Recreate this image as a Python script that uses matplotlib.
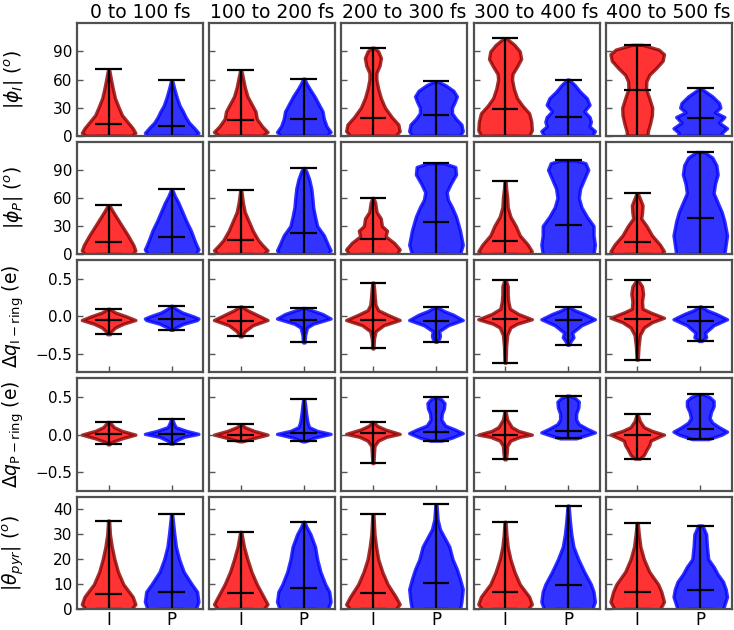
import numpy as np
import matplotlib
matplotlib.use("Agg")
import matplotlib.pyplot as plt

# time windows (columns) and species (x ticks)
windows = ["0 to 100 fs", "100 to 200 fs", "200 to 300 fs", "300 to 400 fs", "400 to 500 fs"]
species = ["I", "P"]

# violin outlines: (value, relative half width), first/last = min/max
# row 1: |phi_I|
phiI_I = [
    [(0, .85), (3, 1), (8, .9), (15, .7), (22, .5), (30, .38), (40, .24), (50, .16), (60, .09), (71, .02)],
    [(0, .8), (4, 1), (10, .8), (18, .6), (26, .55), (34, .4), (42, .25), (52, .15), (62, .08), (70, .02)],
    [(0, .85), (5, 1), (12, .95), (20, .7), (30, .45), (40, .3), (50, .2), (60, .13), (67, .13), (75, .25), (83, .3), (90, .2), (94, .05)],
    [(0, .9), (6, 1), (15, .98), (24, .9), (32, .65), (40, .45), (50, .33), (60, .26), (66, .28), (74, .45), (82, .6), (90, .55), (97, .35), (104, .05)],
    [(0, .38), (5, .4), (13, .48), (22, .55), (30, .56), (40, .45), (50, .33), (58, .34), (65, .45), (72, .7), (80, .95), (87, 1), (92, .8), (97, .2)],
]
phiI_P = [
    [(0, .9), (3, 1), (8, .85), (14, .65), (20, .52), (26, .42), (32, .3), (40, .2), (50, .1), (59, .02)],
    [(0, .85), (4, 1), (10, .85), (18, .75), (26, .7), (34, .55), (42, .4), (50, .22), (56, .1), (61, .02)],
    [(0, .9), (5, 1), (12, .95), (18, .75), (24, .6), (30, .6), (36, .7), (42, .78), (48, .65), (54, .35), (58, .05)],
    [(0, .9), (5, 1), (10, .8), (15, .85), (20, .8), (26, .6), (33, .8), (40, .7), (47, .45), (54, .25), (60, .03)],
    [(0, .85), (3, .8), (8, 1), (14, .7), (20, .9), (25, .55), (30, .75), (35, .7), (42, .45), (47, .2), (50.5, .03)],
]
phiI_med_I = [13, 17, 19, 29, 49]
phiI_med_P = [10, 18, 22, 20, 19]

# row 2: |phi_P|
phiP_I = [
    [(0, .9), (4, 1), (10, .92), (20, .72), (30, .5), (40, .28), (46, .15), (52, .03)],
    [(0, .85), (4, 1), (10, .8), (15, .65), (25, .45), (35, .3), (45, .15), (55, .08), (68, .02)],
    [(0, .85), (5, .95), (12, .75), (19, .45), (25, .5), (30, .32), (38, .28), (45, .13), (55, .08), (60, .02)],
    [(0, .9), (3, 1), (10, .85), (20, .55), (30, .4), (40, .2), (50, .1), (60, .08), (70, .04), (78, .02)],
    [(0, .9), (3, 1), (10, .85), (20, .55), (30, .35), (38, .15), (44, .18), (52, .2), (58, .12), (65, .02)],
]
phiP_P = [
    [(0, .9), (5, 1), (10, .92), (15, .85), (25, .72), (35, .55), (45, .4), (55, .25), (62, .12), (69, .02)],
    [(0, .9), (4, 1), (10, .9), (20, .75), (30, .5), (40, .42), (50, .35), (60, .32), (70, .28), (80, .2), (88, .1), (92, .02)],
    [(0, .9), (10, 1), (25, .9), (40, .75), (50, .6), (58, .45), (66, .4), (75, .55), (85, .75), (93, .72), (97, .3)],
    [(0, .95), (10, 1), (20, .95), (30, .95), (40, .7), (50, .5), (60, .4), (70, .45), (80, .6), (90, .75), (97, .65), (100, .3)],
    [(0, .9), (10, .95), (20, 1), (35, .9), (45, .8), (55, .65), (65, .5), (75, .55), (85, .65), (95, .6), (103, .45), (109, .15)],
]
phiP_med_I = [13, 15, 16, 14, 13]
phiP_med_P = [18, 23, 34, 31, 38]

# row 3: dq I-ring
dqI_I = [
    [(-.24, .05), (-.2, .1), (-.15, .25), (-.1, .55), (-.05, 1), (0, .65), (.05, .25), (.1, .03)],
    [(-.27, .03), (-.2, .15), (-.12, .45), (-.05, 1), (.02, .6), (.08, .25), (.13, .03)],
    [(-.43, .02), (-.3, .04), (-.2, .1), (-.12, .4), (-.05, 1), (.02, .55), (.08, .2), (.15, .1), (.25, .07), (.35, .05), (.45, .02)],
    [(-.62, .02), (-.4, .04), (-.25, .08), (-.15, .2), (-.1, .45), (-.04, 1), (.03, .5), (.1, .18), (.2, .12), (.3, .1), (.4, .1), (.48, .03)],
    [(-.58, .02), (-.4, .05), (-.25, .1), (-.15, .25), (-.08, .55), (-.02, 1), (.05, .5), (.1, .2), (.2, .18), (.3, .22), (.4, .18), (.48, .03)],
]
dqI_P = [
    [(-.18, .05), (-.15, .15), (-.1, .45), (-.05, .95), (-.03, 1), (0, .8), (.05, .4), (.1, .15), (.14, .03)],
    [(-.35, .03), (-.25, .05), (-.15, .12), (-.1, .35), (-.03, 1), (.03, .7), (.08, .3), (.11, .05)],
    [(-.34, .03), (-.3, .12), (-.26, .15), (-.2, .12), (-.12, .45), (-.05, 1), (.02, .65), (.07, .3), (.12, .05)],
    [(-.38, .03), (-.33, .1), (-.28, .2), (-.22, .15), (-.12, .5), (-.04, 1), (.03, .6), (.08, .25), (.12, .05)],
    [(-.33, .05), (-.28, .22), (-.22, .18), (-.12, .5), (-.04, 1), (.03, .6), (.08, .25), (.13, .03)],
]
dqI_med_I = [-0.05, -0.06, -0.05, -0.04, -0.03]
dqI_med_P = [-0.04, -0.05, -0.06, -0.05, -0.06]

# row 4: dq P-ring
dqP_I = [
    [(-.13, .03), (-.1, .1), (-.05, .5), (0, 1), (.05, .5), (.1, .2), (.17, .03)],
    [(-.09, .05), (-.05, .45), (0, 1), (.05, .5), (.1, .15), (.14, .03)],
    [(-.38, .02), (-.25, .04), (-.15, .06), (-.08, .2), (-.03, .5), (.01, 1), (.07, .45), (.12, .15), (.17, .03)],
    [(-.33, .03), (-.25, .06), (-.15, .08), (-.08, .2), (-.03, .55), (0, 1), (.05, .5), (.1, .25), (.2, .08), (.31, .02)],
    [(-.32, .1), (-.27, .25), (-.2, .35), (-.14, .45), (-.08, .5), (-.03, .8), (0, 1), (.05, .55), (.1, .25), (.18, .1), (.27, .02)],
]
dqP_P = [
    [(-.12, .05), (-.08, .15), (-.03, .45), (.01, 1), (.05, .55), (.1, .15), (.15, .08), (.21, .02)],
    [(-.09, .05), (-.04, .4), (.01, 1), (.05, .5), (.1, .2), (.15, .15), (.2, .12), (.3, .08), (.4, .05), (.47, .02)],
    [(-.08, .2), (-.04, .6), (.02, 1), (.07, .7), (.12, .35), (.2, .2), (.28, .22), (.35, .3), (.42, .32), (.47, .2), (.5, .05)],
    [(-.05, .3), (0, .75), (.03, 1), (.08, .7), (.14, .4), (.2, .3), (.28, .3), (.36, .38), (.44, .4), (.49, .25), (.52, .05)],
    [(-.06, .3), (0, .8), (.04, 1), (.1, .7), (.16, .45), (.22, .35), (.3, .4), (.38, .5), (.45, .5), (.5, .35), (.54, .1)],
]
dqP_med_I = [0.01, 0.0, 0.02, 0.0, -0.01]
dqP_med_P = [0.01, 0.02, 0.04, 0.05, 0.07]

# row 5: |theta_pyr|
pyr_I = [
    [(0, .85), (2, 1), (5, .9), (10, .55), (15, .35), (20, .22), (25, .12), (30, .05), (35.5, .02)],
    [(0, .85), (2, 1), (5, .85), (10, .6), (15, .4), (20, .25), (25, .12), (31, .02)],
    [(0, .85), (2, 1), (5, .85), (10, .55), (15, .35), (20, .2), (25, .12), (30, .06), (38, .02)],
    [(0, .85), (2, 1), (5, .9), (10, .55), (15, .35), (20, .2), (25, .1), (30, .05), (35, .02)],
    [(0, .85), (3, 1), (7, .9), (10, .78), (15, .45), (20, .25), (25, .12), (30, .06), (34.5, .02)],
]
pyr_P = [
    [(0, .9), (3, 1), (7, .95), (10, .75), (15, .45), (20, .28), (25, .16), (30, .1), (35, .05), (38, .02)],
    [(0, .9), (3, 1), (7, .95), (10, .8), (15, .62), (20, .5), (25, .42), (30, .25), (33, .1), (35, .02)],
    [(0, .9), (3, .95), (8, 1), (12, .9), (16, .78), (20, .62), (25, .5), (28, .35), (32, .15), (36, .06), (42, .02)],
    [(0, .9), (3, 1), (7, .95), (10, .85), (15, .6), (20, .38), (25, .2), (30, .12), (35, .07), (41.5, .02)],
    [(0, .85), (5, 1), (8, .95), (11, .85), (14, .65), (17, .5), (20, .3), (25, .25), (30, .22), (33.5, .08)],
]
pyr_med_I = [6, 6.5, 6.5, 7, 7]
pyr_med_P = [7, 8.5, 10.5, 9.5, 7.5]

rows = [
    (phiI_I, phiI_P, phiI_med_I, phiI_med_P, r'$|\phi_I|$ ($^o$)', (0, 120), [0, 30, 60, 90]),
    (phiP_I, phiP_P, phiP_med_I, phiP_med_P, r'$|\phi_P|$ ($^o$)', (0, 120), [0, 30, 60, 90]),
    (dqI_I, dqI_P, dqI_med_I, dqI_med_P, r'$\mathit{\Delta}q_{\rm I-ring}$ (e)', (-0.75, 0.75), [-0.5, 0.0, 0.5]),
    (dqP_I, dqP_P, dqP_med_I, dqP_med_P, r'$\mathit{\Delta}q_{\rm P-ring}$ (e)', (-0.75, 0.75), [-0.5, 0.0, 0.5]),
    (pyr_I, pyr_P, pyr_med_I, pyr_med_P, r'$|\theta_{pyr}|$ ($^o$)', (0, 45), [0, 10, 20, 30, 40]),
]


def draw(ax, prof, med, pos, face, edge):
    ys = np.array([p[0] for p in prof])
    ws = np.array([p[1] for p in prof])
    st = dict(coords=ys, vals=ws, mean=med, median=med, min=ys[0], max=ys[-1])
    parts = ax.violin([st], positions=[pos], widths=0.85,
                      showmeans=False, showextrema=True, showmedians=True)
    for b in parts['bodies']:
        b.set_facecolor(face)
        b.set_edgecolor(edge)
        b.set_alpha(0.8)
        b.set_linewidth(2.4)
    for k in ('cmaxes', 'cmins', 'cbars', 'cmedians'):
        parts[k].set_color('black')
        parts[k].set_linewidth(1.6)


fig, axes = plt.subplots(5, 5, figsize=(7.34, 6.3), dpi=100)
plt.subplots_adjust(left=0.105, right=0.997, top=0.963, bottom=0.033, wspace=0.048, hspace=0.053)

for r, (dI, dP, mI, mP, lab, lim, ticks) in enumerate(rows):
    for c in range(5):
        ax = axes[r, c]
        draw(ax, dI[c], mI[c], 1, 'red', 'darkred')
        draw(ax, dP[c], mP[c], 2, 'blue', 'blue')
        ax.set_xlim(0.5, 2.5)
        ax.set_ylim(*lim)
        ax.set_yticks(ticks)
        ax.set_xticks([1, 2])
        ax.tick_params(direction='in', length=4, width=1, color='#555555', labelsize=11)
        ax.tick_params(axis='x', labelsize=12, pad=1.5)
        for s in ax.spines.values():
            s.set_color('#505050')
            s.set_linewidth(1.6)
        if c == 0:
            ax.set_ylabel(lab, fontsize=13.5)
            ax.yaxis.set_label_coords(-0.405, 0.5)
        else:
            ax.set_yticklabels([])
        if r == 4:
            ax.set_xticklabels(species)
        else:
            ax.set_xticklabels([])
        if r == 0:
            ax.set_title(windows[c], fontsize=13.5, pad=4)

fig.savefig('out.png', dpi=100)
